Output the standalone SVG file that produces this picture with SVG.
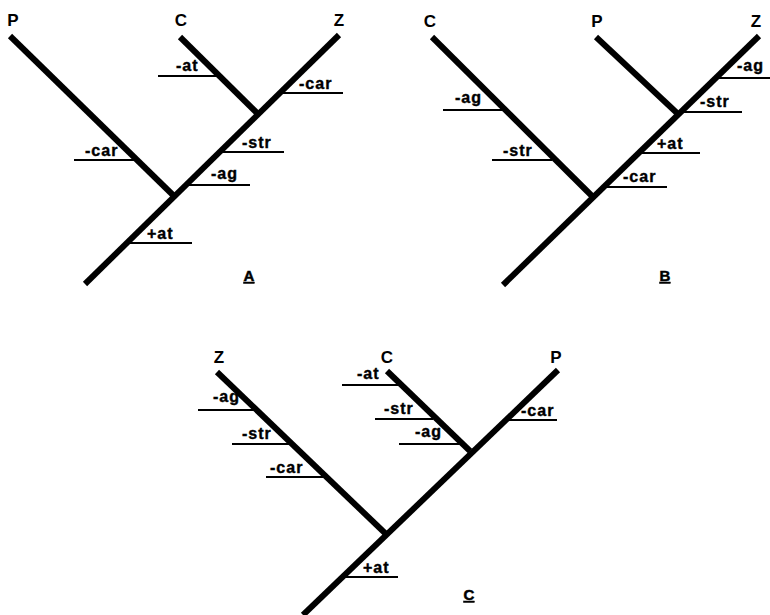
<svg xmlns="http://www.w3.org/2000/svg" width="770" height="615" viewBox="0 0 770 615">
<style>
.br{stroke:#000;stroke-width:6;fill:none;stroke-linecap:butt}
.tk{stroke:#000;stroke-width:1.8;fill:none}
.tl{font-family:"Liberation Sans",Arial,sans-serif;font-weight:bold;font-size:16px;letter-spacing:1px;fill:#000;stroke:#000;stroke-width:0.4}
.tx{font-family:"Liberation Sans",Arial,sans-serif;font-weight:bold;font-size:17px;fill:#000;text-anchor:middle}
.cap{font-family:"Liberation Sans",Arial,sans-serif;font-weight:bold;font-size:15px;fill:#000;stroke:#000;stroke-width:0.5;text-anchor:middle;text-decoration:underline}
</style>
<rect width="770" height="615" fill="#fff"/>
<g id="connectors">
  <!-- Tree A -->
  <line class="br" x1="85" y1="284" x2="339" y2="35"/>
  <line class="br" x1="10" y1="36" x2="175" y2="197"/>
  <line class="br" x1="180" y1="37" x2="258" y2="114"/>
  <!-- Tree B -->
  <line class="br" x1="503" y1="285" x2="759" y2="36"/>
  <line class="br" x1="432" y1="37" x2="594" y2="198"/>
  <line class="br" x1="596" y1="37" x2="678" y2="114"/>
  <!-- Tree C -->
  <line class="br" x1="303" y1="615" x2="558" y2="370"/>
  <line class="br" x1="217" y1="372" x2="387" y2="535"/>
  <line class="br" x1="387" y1="371" x2="470" y2="451"/>
</g>
<g id="treeA">
  <text class="tx" x="13" y="26">P</text>
  <text class="tx" x="181" y="26">C</text>
  <text class="tx" x="339" y="26">Z</text>
  <g id="A-at"><line class="tk" x1="158" y1="76" x2="218" y2="76"/><text class="tl" x="176" y="71">-at</text></g>
  <g id="A-carZ"><line class="tk" x1="282" y1="93" x2="343" y2="93"/><text class="tl" x="299" y="89">-car</text></g>
  <g id="A-str"><line class="tk" x1="223" y1="152" x2="284" y2="152"/><text class="tl" x="242" y="148">-str</text></g>
  <g id="A-ag"><line class="tk" x1="188" y1="185" x2="250" y2="185"/><text class="tl" x="211" y="179">-ag</text></g>
  <g id="A-carP"><line class="tk" x1="74" y1="160" x2="135" y2="160"/><text class="tl" x="85" y="156">-car</text></g>
  <g id="A-plusat"><line class="tk" x1="129" y1="243" x2="192" y2="243"/><text class="tl" x="147" y="239">+at</text></g>
  <text class="cap" x="249" y="281">A</text>
</g>
<g id="treeB">
  <text class="tx" x="430" y="27">C</text>
  <text class="tx" x="597" y="27">P</text>
  <text class="tx" x="756" y="27">Z</text>
  <g id="B-agZ"><line class="tk" x1="718" y1="78" x2="770" y2="78"/><text class="tl" x="737" y="71">-ag</text></g>
  <g id="B-strZ"><line class="tk" x1="682" y1="112" x2="742" y2="112"/><text class="tl" x="700" y="107">-str</text></g>
  <g id="B-plusat"><line class="tk" x1="642" y1="153" x2="700" y2="153"/><text class="tl" x="657" y="149">+at</text></g>
  <g id="B-car"><line class="tk" x1="607" y1="187" x2="667" y2="187"/><text class="tl" x="623" y="182">-car</text></g>
  <g id="B-agC"><line class="tk" x1="443" y1="110" x2="502" y2="110"/><text class="tl" x="455" y="103">-ag</text></g>
  <g id="B-strC"><line class="tk" x1="492" y1="160" x2="552" y2="160"/><text class="tl" x="503" y="156">-str</text></g>
  <text class="cap" x="665" y="281">B</text>
</g>
<g id="treeC">
  <text class="tx" x="219" y="363">Z</text>
  <text class="tx" x="387" y="363">C</text>
  <text class="tx" x="556" y="363">P</text>
  <g id="C-at"><line class="tk" x1="342" y1="385" x2="400" y2="385"/><text class="tl" x="357" y="379">-at</text></g>
  <g id="C-strC"><line class="tk" x1="375" y1="419" x2="433" y2="419"/><text class="tl" x="384" y="414">-str</text></g>
  <g id="C-agC"><line class="tk" x1="399" y1="444" x2="460" y2="444"/><text class="tl" x="415" y="437">-ag</text></g>
  <g id="C-carP"><line class="tk" x1="505" y1="420" x2="557" y2="420"/><text class="tl" x="521" y="416">-car</text></g>
  <g id="C-agZ"><line class="tk" x1="198" y1="410" x2="257" y2="410"/><text class="tl" x="213" y="402">-ag</text></g>
  <g id="C-strZ"><line class="tk" x1="232" y1="444" x2="290" y2="444"/><text class="tl" x="242" y="439">-str</text></g>
  <g id="C-carZ"><line class="tk" x1="266" y1="477" x2="325" y2="477"/><text class="tl" x="270" y="473">-car</text></g>
  <g id="C-plusat"><line class="tk" x1="345" y1="577" x2="398" y2="577"/><text class="tl" x="363" y="573">+at</text></g>
  <text class="cap" x="469" y="600">C</text>
</g>
</svg>
